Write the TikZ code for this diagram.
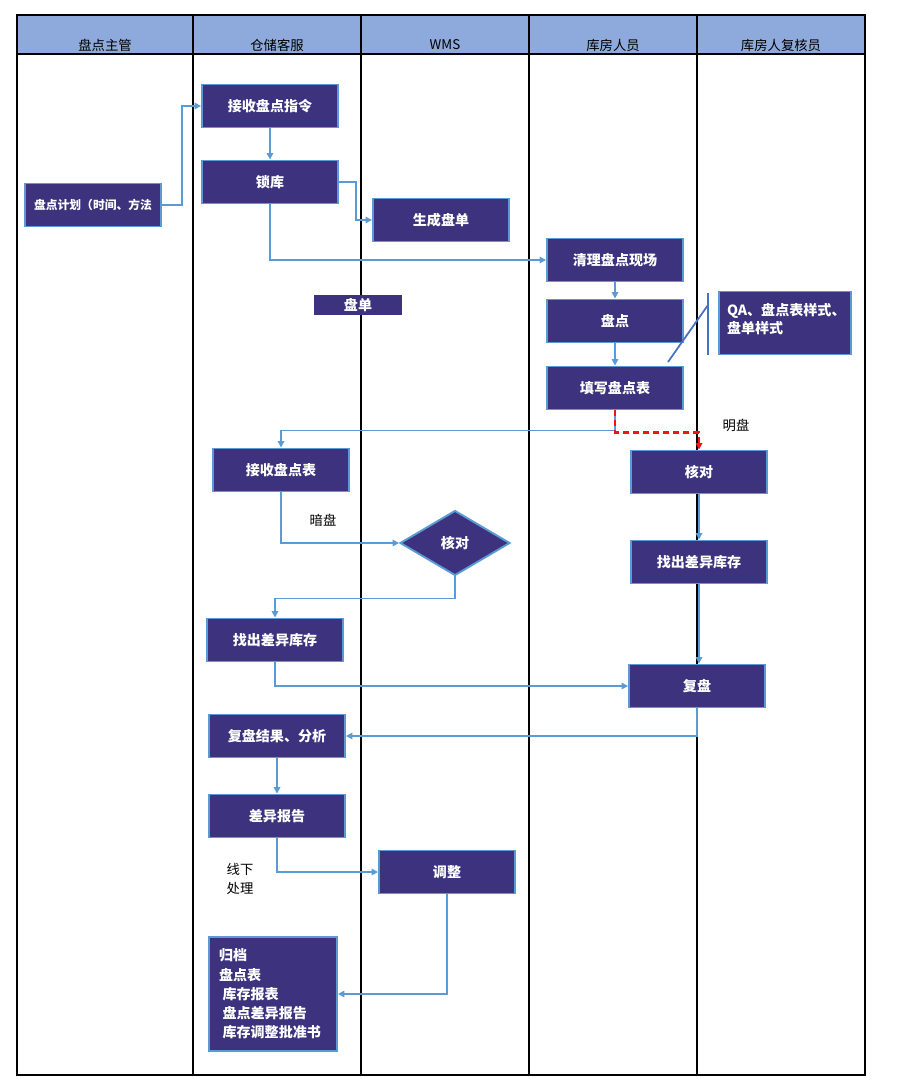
\documentclass[tikz,border=0pt]{standalone}
\usepackage{fontspec}
\setmainfont{Noto Sans CJK SC}
\usetikzlibrary{shapes.geometric,arrows.meta}
\definecolor{taskfill}{RGB}{60,50,125}
\definecolor{taskline}{RGB}{91,155,213}
\definecolor{headfill}{RGB}{142,169,219}
\definecolor{noteline}{RGB}{68,114,196}
\definecolor{openline}{RGB}{240,20,20}
\begin{document}
\begin{tikzpicture}[x=0.02cm,y=-0.02cm]
  \tikzstyle{task}=[rectangle,draw=taskline,line width=1.1pt,fill=taskfill,text=white,font=\fontsize{8}{10}\selectfont\bfseries,minimum width=2.72cm,minimum height=0.86cm,inner sep=1pt]
  \tikzstyle{check}=[diamond,draw=taskline,line width=1.1pt,fill=taskfill,text=white,font=\fontsize{8}{10}\selectfont\bfseries,minimum width=2.2cm,minimum height=1.3cm,aspect=1.7,inner sep=0pt]
  \tikzstyle{head}=[font=\fontsize{7.6}{9}\selectfont]
  \tikzstyle{label}=[font=\fontsize{7.6}{11}\selectfont,align=left]
  \tikzstyle{lane}=[draw=black,line width=1.2pt]
  \tikzstyle{flow}=[draw=taskline,line width=1pt,-{Triangle[length=3.6pt,width=3.6pt]}]
  \tikzstyle{openflow}=[draw=openline,line width=1.3pt,dash pattern=on 3.4pt off 2.3pt,-{Triangle[length=3.6pt,width=3.6pt,fill=openline]}]
  \useasboundingbox (0,0) rectangle (910,1084);
  % swimlanes
  \fill[headfill] (17,15) rectangle (865,54);
  \draw[lane] (17,15) rectangle (865,1075);
  \draw[lane] (17,54) -- (865,54);
  \foreach \x in {193,361,529,697}
    \draw[lane] (\x,15) -- (\x,1075);
  \node[head] (h1) at (105,45) {盘点主管};
  \node[head] (h2) at (277,45) {仓储客服};
  \node[head] (h3) at (445,45) {WMS};
  \node[head] (h4) at (613,45) {库房人员};
  \node[head] (h5) at (781,45) {库房人复核员};
  % tasks
  \node[task,font=\fontsize{6.7}{8}\selectfont\bfseries] (plan) at (93,205) {盘点计划（时间、方法};
  \node[task] (order) at (270,106) {接收盘点指令};
  \node[task] (lock) at (270,182) {锁库};
  \node[task] (sheet) at (441,220) {生成盘单};
  \node[task] (clean) at (615,260) {清理盘点现场};
  \node[task,draw=none,minimum width=1.78cm,minimum height=0.42cm] (form) at (358,305) {盘单};
  \node[task] (count) at (615,321) {盘点};
  \node[task] (fill) at (615,388) {填写盘点表};
  \node[task,minimum width=2.64cm,minimum height=1.26cm,text width=2.32cm,inner xsep=0.16cm,align=left,text depth=16pt,font=\fontsize{8}{10.8}\selectfont\bfseries] (qa) at (785,323) {QA、盘点表样式、\\盘单样式};
  \node[task] (chkR) at (699,472) {核对};
  \node[task] (table) at (281,470) {接收盘点表};
  \node[check] (chkL) at (455,543) {核对};
  \node[task] (diffR) at (699,562) {找出差异库存};
  \node[task] (diffL) at (275,640) {找出差异库存};
  \node[task] (redo) at (697,686) {复盘};
  \node[task] (result) at (277,736) {复盘结果、分析};
  \node[task] (report) at (277,816) {差异报告};
  \node[task] (adjust) at (447,872) {调整};
  \node[task,minimum width=2.56cm,minimum height=2.28cm,text width=2.16cm,inner xsep=0.2cm,align=left,font=\fontsize{8}{11}\selectfont\bfseries] (archive) at (273,994) {归档\\盘点表\\\hspace{2pt}库存报表\\\hspace{2pt}盘点差异报告\\\hspace{2pt}库存调整批准书};
  % labels
  \node[label] (open) at (736,425) {明盘};
  \node[label] (blind) at (323,520) {暗盘};
  \node[label] (offline) at (240,879) {线下\\处理};
  % annotation bracket
  \coordinate (brT) at (708,293);
  \coordinate (brB) at (708,355);
  \coordinate (brM) at (708,305);
  \coordinate (brE) at (668,362);
  \draw[noteline,line width=1pt] (brT) -- (brB);
  \draw[noteline,line width=1pt] (brM) -- (brE);
  % connectors
  \path[flow] (plan.east) -- ++(20,0) |- (order.west);
  \path[flow] (order) -- (lock);
  \path[flow] (lock.east) -- ++(17,0) |- (sheet.west);
  \path[flow] (lock.south) |- (clean.west);
  \path[flow] (clean) -- (count);
  \path[flow] (count) -- (fill);
  \path[flow] (fill.south) -- ++(0,20) -| (table.north);
  \path[openflow] (fill.south) -- ++(0,22) -| (chkR.north);
  \path[flow] (table.south) |- (chkL.west);
  \path[flow] (chkL.south) -- ++(0,22) -| (diffL.north);
  \path[flow] (chkR) -- (diffR);
  \path[flow] (diffR.south) -- (diffR.south |- redo.north);
  \path[flow] (diffL.south) |- (redo.west);
  \path[flow] (redo.south) |- (result.east);
  \path[flow] (result) -- (report);
  \path[flow] (report.south) |- (adjust.west);
  \path[flow] (adjust.south) |- (archive.east);
\end{tikzpicture}
\end{document}
